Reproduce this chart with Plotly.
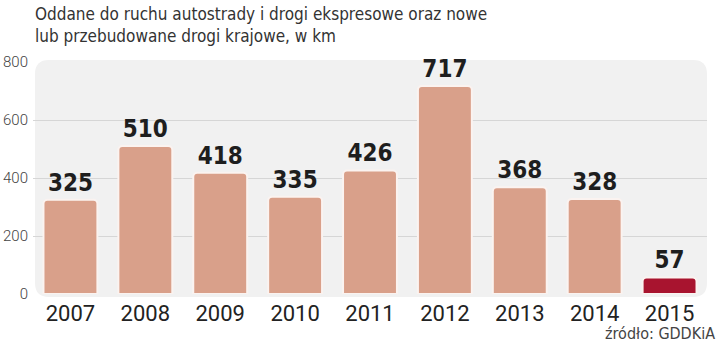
import plotly.graph_objects as go

years = ["2007", "2008", "2009", "2010", "2011", "2012", "2013", "2014", "2015"]
values = [325, 510, 418, 335, 426, 717, 368, 328, 57]
bar_colors = ["#d9a08a"] * 8 + ["#a8142f"]
y_ticks = [0, 200, 400, 600, 800]

W, H = 720, 348
L, R, T, B = 33, 13, 62, 54
pw, ph = W - L - R, H - T - B

def px_to_paper(x, y):
    return (x - L) / pw, (H - B - y) / ph

def rounded_rect(x0, y0, x1, y1, r):
    def P(x, y):
        px, py = px_to_paper(x, y)
        return f"{px:.5f},{py:.5f}"
    return (f"M {P(x0 + r, y0)} L {P(x1 - r, y0)} Q {P(x1, y0)} {P(x1, y0 + r)} "
            f"L {P(x1, y1 - r)} Q {P(x1, y1)} {P(x1 - r, y1)} "
            f"L {P(x0 + r, y1)} Q {P(x0, y1)} {P(x0, y1 - r)} "
            f"L {P(x0, y0 + r)} Q {P(x0, y0)} {P(x0 + r, y0)} Z")

narrow = "Liberation Sans Narrow, Arial Narrow, DejaVu Sans Condensed, sans-serif"

fig = go.Figure()
fig.add_trace(go.Bar(
    x=years, y=values,
    marker=dict(color=bar_colors, line=dict(color="#fbf3f0", width=2)),
    width=0.72,
    text=[str(v) for v in values],
    textposition="outside",
    textfont=dict(family=narrow, size=24, color="#1e1e1e", weight="bold"),
    cliponaxis=False,
))

fig.update_layout(
    width=W, height=H,
    margin=dict(l=L, r=R, t=T, b=B, pad=0),
    paper_bgcolor="white",
    plot_bgcolor="rgba(0,0,0,0)",
    showlegend=False,
    barcornerradius=4,
    xaxis=dict(showgrid=False, zeroline=False, showline=False, ticks="", automargin=False,
               tickfont=dict(family="Roboto, Liberation Sans, sans-serif", size=22, color="#222"),
               ticklabelstandoff=4),
    yaxis=dict(range=[0, 800], tickvals=y_ticks, showgrid=True, gridcolor="#d6d6d6",
               gridwidth=1, zeroline=False, showline=False, ticks="", automargin=False,
               tickfont=dict(family="Roboto, Liberation Sans, sans-serif", size=15, color="#444", weight=300),
               ticklabelstandoff=4),
    shapes=[dict(type="path", xref="paper", yref="paper", layer="below",
                 path=rounded_rect(35, 60, 707, 297, 14),
                 fillcolor="#f1f1f1", line=dict(width=0))],
    annotations=[
        dict(text="Oddane do ruchu autostrady i drogi ekspresowe oraz nowe<br>lub przebudowane drogi krajowe, w km",
             xref="paper", yref="paper", x=0, y=1 + 60 / ph, xanchor="left", yanchor="top",
             align="left", showarrow=False,
             font=dict(family=narrow, size=17, color="#333", weight=300)),
        dict(text="źródło: GDDKiA", xref="paper", yref="paper",
             x=(717 - L) / pw, y=-(322 - (H - B)) / ph, xanchor="right", yanchor="top",
             showarrow=False,
             font=dict(family=narrow, size=16, color="#444", weight=300)),
    ],
)

fig.write_html("out.html")
